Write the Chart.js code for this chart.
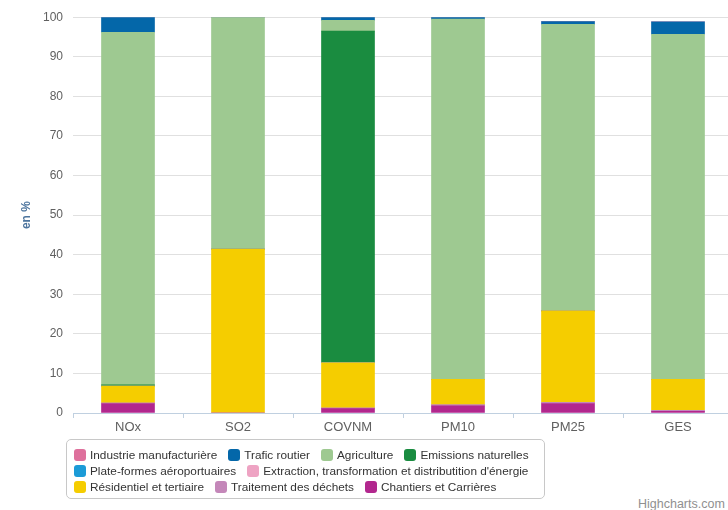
<!DOCTYPE html>
<html>
<head>
<meta charset="utf-8">
<script src="https://cdn.jsdelivr.net/npm/chart.js@4.4.1/dist/chart.umd.min.js"></script>
<style>
  html, body { margin: 0; padding: 0; background: #fff; overflow: hidden; width: 728px; height: 510px; }
  #wrap { position: absolute; left: 0; top: 0; width: 740px; height: 440px; }
  #legend { position: absolute; left: 66px; top: 439px; width: 470px; height: 48px; padding: 7px 0 3px 7px;
            border: 1px solid #c8c8c8; border-radius: 5px; font: 11.8px "Liberation Sans", Arial, sans-serif; color: #333;
            display: flex; flex-wrap: wrap; align-content: flex-start; }
  .item { display: flex; align-items: center; white-space: nowrap; margin-right: 11px; height: 16px; }
  .box { width: 12px; height: 12px; border-radius: 3px; margin-right: 4px; }
  .brk { flex-basis: 100%; height: 0; }
  #credits { position: absolute; left: 638px; top: 497px; font: 12.5px "Liberation Sans", Arial, sans-serif; color: #909090; white-space: nowrap; }
</style>
</head>
<body>
<div id="wrap"><canvas id="chart"></canvas></div>
<div id="legend"></div>
<div id="credits">Highcharts.com</div>
<script>
const categories = ['NOx', 'SO2', 'COVNM', 'PM10', 'PM25', 'GES'];

// stacking from the top down, in legend order
const industrie   = [0, 0, 0, 0, 0, 0];
const trafic      = [3.8, 0, 0.8, 0.5, 0.7, 3.1];
const agriculture = [89.1, 58.6, 2.7, 91.0, 72.4, 87.2];
const emissions   = [0.3, 0, 83.8, 0, 0, 0];
const plateformes = [0, 0, 0, 0, 0, 0];
const extraction  = [0, 0, 0, 0, 0, 0];
const residentiel = [4.2, 41.4, 11.4, 6.4, 23.1, 7.8];
const traitement  = [0.2, 0, 0.2, 0.3, 0.3, 0.3];
const chantiers   = [2.4, 0, 1.1, 1.8, 2.4, 0.4];

const yTicks = [0, 10, 20, 30, 40, 50, 60, 70, 80, 90, 100];

// Chart.js stacks the first dataset at the bottom, so list them bottom-up
const series = [
    ['Chantiers et Carrières', chantiers, '#b2278e'],
    ['Traitement des déchets', traitement, '#c487b9'],
    ['Résidentiel et tertiaire', residentiel, '#f5cd00'],
    ["Extraction, transformation et distributition d'énergie", extraction, '#eea3c3'],
    ['Plate-formes aéroportuaires', plateformes, '#1b9bd7'],
    ['Emissions naturelles', emissions, '#1a8c40'],
    ['Agriculture', agriculture, '#9ec991'],
    ['Trafic routier', trafic, '#0467a9'],
    ['Industrie manufacturière', industrie, '#de709c']
];

// legend rows break after these items (same as the original)
const legendBreaks = [4, 6];

const htmlLegend = {
    id: 'htmlLegend',
    afterUpdate(chart){
        const el = document.getElementById('legend');
        el.innerHTML = '';
        const items = chart.options.plugins.legend.labels.generateLabels(chart);
        items.sort((a, b) => b.datasetIndex - a.datasetIndex);
        items.forEach((it, i) => {
            if (legendBreaks.includes(i)){
                const b = document.createElement('div');
                b.className = 'brk';
                el.appendChild(b);
            }
            const d = document.createElement('div');
            d.className = 'item';
            d.innerHTML = `<span class="box" style="background:${it.fillStyle}"></span><span>${it.text}</span>`;
            el.appendChild(d);
        });
    }
};

const ctx = document.getElementById('chart').getContext('2d');
new Chart(ctx, {
    type: 'bar',
    data: {
        labels: categories,
        datasets: series.map(s => ({ label: s[0], data: s[1], backgroundColor: s[2], borderWidth: 0, barThickness: 53 }))
    },
    options: {
        responsive: true,
        maintainAspectRatio: false,
        animation: false,
        layout: { padding: { top: 14, right: 7, left: 0, bottom: 0 } },
        plugins: { legend: { display: false }, tooltip: { enabled: false } },
        scales: {
            x: {
                stacked: true,
                grid: { drawOnChartArea: false, drawTicks: true, tickLength: 5, color: '#c0d0e0' },
                border: { color: '#c0d0e0' },
                ticks: { color: '#606060', font: { family: 'Liberation Sans', size: 13 }, padding: 2 },
                afterFit(s){ s.height = 27; }
            },
            y: {
                stacked: true,
                min: 0, max: 100,
                afterBuildTicks(s){ s.ticks = yTicks.map(v => ({ value: v })); },
                grid: { color: '#e0e0e0', drawTicks: false },
                border: { display: false },
                ticks: { color: '#606060', font: { family: 'Liberation Sans', size: 12 }, padding: 10 },
                title: { display: true, text: 'en %', color: '#4d759e', font: { family: 'Liberation Sans', size: 12, weight: 'bold' }, padding: { top: 19, bottom: 0 } },
                afterFit(s){ s.width = 73; }
            }
        }
    },
    plugins: [htmlLegend]
});
</script>
</body>
</html>
